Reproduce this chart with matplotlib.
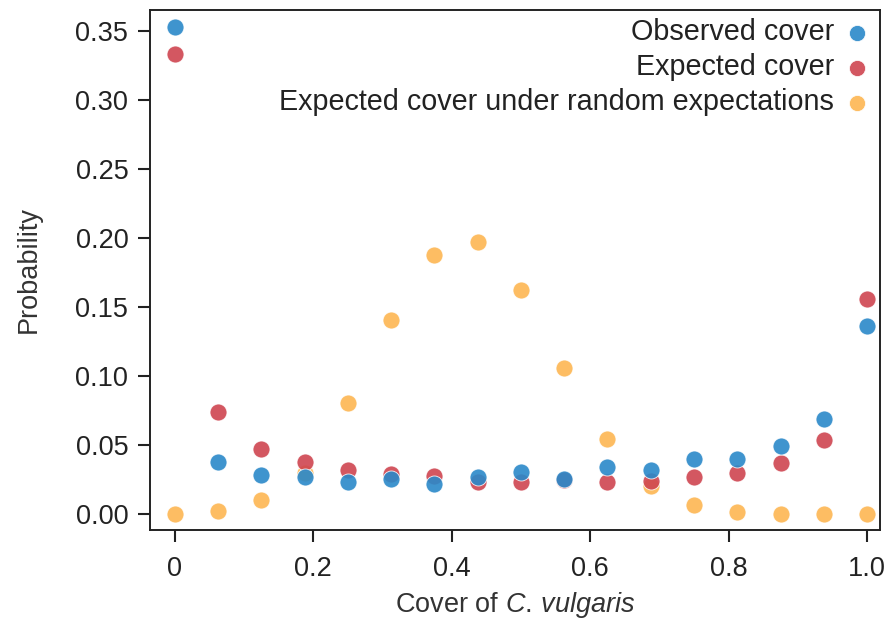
import numpy as np
import matplotlib
matplotlib.use("Agg")
import matplotlib.pyplot as plt

plt.rcParams['font.family'] = ['Liberation Sans', 'DejaVu Sans']
plt.rcParams['mathtext.fontset'] = 'custom'
plt.rcParams['mathtext.rm'] = 'Liberation Sans'
plt.rcParams['mathtext.it'] = 'Liberation Sans:italic'

cover = [i / 16 for i in range(17)]
observed = [0.353, 0.0376, 0.0285, 0.027, 0.0235, 0.0255, 0.022, 0.027, 0.0305,
            0.025, 0.0343, 0.0318, 0.0395, 0.0395, 0.0495, 0.0690, 0.1365]
expected = [0.333, 0.0742, 0.047, 0.0375, 0.0322, 0.0293, 0.0275, 0.0235, 0.0235,
            0.0245, 0.0235, 0.0242, 0.0268, 0.0298, 0.0370, 0.0538, 0.1555]
random_exp = [0.000, 0.0018, 0.0100, 0.030, 0.0802, 0.1406, 0.188, 0.197, 0.1623,
              0.106, 0.0545, 0.0205, 0.0065, 0.0012, 0.0003, 0.0000, 0.0000]

c_obs = '#2a88c9'
c_exp = '#cf4550'
c_rand = '#fdb652'

fig = plt.figure(figsize=(8.89, 6.23), dpi=100)
ax = fig.add_axes([0.1687, 0.1493, 0.8212, 0.8347])

ms = 150
h3 = ax.scatter(cover, random_exp, s=ms, color=c_rand, alpha=0.9, edgecolors='white', linewidths=0.6, zorder=2,
                label='Expected cover under random expectations')
h2 = ax.scatter(cover, expected, s=ms, color=c_exp, alpha=0.9, edgecolors='white', linewidths=0.6, zorder=3,
                label='Expected cover')
h1 = ax.scatter(cover, observed, s=ms, color=c_obs, alpha=0.9, edgecolors='white', linewidths=0.6, zorder=4,
                label='Observed cover')

ax.set_xlim(-0.0361, 1.0188)
ax.set_ylim(-0.0116, 0.3652)
ax.set_xticks([0, 0.2, 0.4, 0.6, 0.8, 1.0])
ax.set_xticklabels(['0', '0.2', '0.4', '0.6', '0.8', '1.0'])
ax.set_yticks([0, 0.05, 0.10, 0.15, 0.20, 0.25, 0.30, 0.35])
ax.set_yticklabels(['0.00', '0.05', '0.10', '0.15', '0.20', '0.25', '0.30', '0.35'])
ax.tick_params(labelsize=19.5, length=8.6, width=1.5, colors='#222222')
ax.tick_params(axis='x', pad=10)
ax.tick_params(axis='y', pad=7)
for sp in ax.spines.values():
    sp.set_linewidth(1.4)
    sp.set_color('#222222')

ax.set_xlabel(r'Cover of $\mathit{C.\,vulgaris}$', fontsize=19.5, color='#333333', labelpad=6)
ax.set_ylabel('Probability', fontsize=19.5, color='#333333', labelpad=24)

leg = ax.legend(handles=[h1, h2, h3], loc='upper right', bbox_to_anchor=(1.0, 1.012),
                frameon=False, markerfirst=False, fontsize=20.7, markerscale=0.95,
                handlelength=0.6, handletextpad=0.5, labelspacing=0.25, borderaxespad=0.1)
for t in leg.get_texts():
    t.set_color('#222222')

fig.savefig('out.png', dpi=100)
